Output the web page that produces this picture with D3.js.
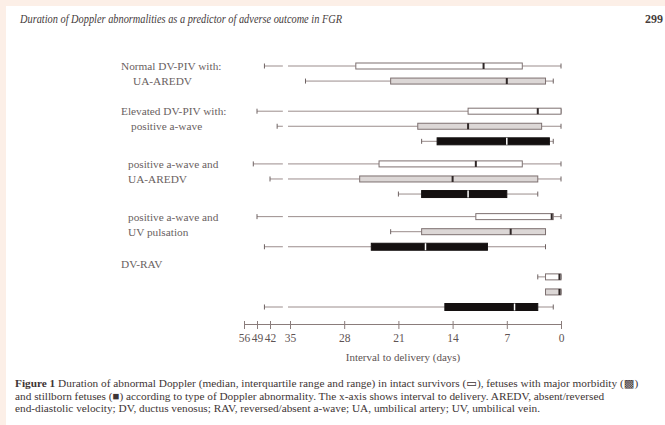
<!DOCTYPE html>
<html>
<head>
<meta charset="utf-8">
<script src="https://cdn.jsdelivr.net/npm/d3@7"></script>
<style>
  body { margin: 0; background: #fcefe7; }
  svg { display: block; }
</style>
</head>
<body>
<div id="chart"></div>
<script>
// days before delivery, one entry per box row (top to bottom)
var groupIndex = [0, 0, 1, 1, 1, 2, 2, 2, 3, 3, 3, 4, 4, 4];
var outcome = ["survivor", "morbidity", "survivor", "morbidity", "stillborn",
    "survivor", "morbidity", "stillborn", "survivor", "morbidity", "stillborn",
    "survivor", "morbidity", "stillborn"];
var longest = [45, 33, 49, 39.5, 18, 51, 42, 21, 49, 22, 45, 3, 2, 45];
var upperQ = [26.5, 22, 12, 18.5, 16, 23.5, 26, 18, 11, 18, 24.5, 2, 2, 15];
var median = [10, 7, 3, 12, 7, 11, 14, 12, 1.2, 6.5, 17.5, 0.2, 0.2, 6];
var lowerQ = [5, 2, 0, 2.5, 1.5, 5, 3, 7, 1, 2, 9.5, 0, 0, 3];
var shortest = [0, 1, 0, 0, 1, 0, 0, 3, 0, 2, 2, 0, 0, 1];

var groupLabels = [
    ["Normal DV-PIV with:", "UA-AREDV"],
    ["Elevated DV-PIV with:", "positive a-wave"],
    ["positive a-wave and", "UA-AREDV"],
    ["positive a-wave and", "UV pulsation"],
    ["DV-RAV"]
];
var labelOnOwnLine = [false, false, false, false, true];

var tickDays = [56, 49, 42, 35, 28, 21, 14, 7, 0];
var tickLabels = ["56", "49", "42", "35", "28", "21", "14", "7", "0"];

var headerText = "Duration of Doppler abnormalities as a predictor of adverse outcome in FGR";
var pageNumber = "299";
var xTitle = "Interval to delivery (days)";
var caption = [
    [["Figure 1", true], [" Duration of abnormal Doppler (median, interquartile range and range) in intact survivors (\u25AD), fetuses with major morbidity (\u25A9)", false]],
    [["and stillborn fetuses (\u25A0) according to type of Doppler abnormality. The x-axis shows interval to delivery. AREDV, absent/reversed", false]],
    [["end-diastolic velocity; DV, ductus venosus; RAV, reversed/absent a-wave; UA, umbilical artery; UV, umbilical vein.", false]]
];

var width = 665, height = 425;
var serif = "'Liberation Serif', 'DejaVu Serif', serif";

var svg = d3.select("#chart")
    .append("svg")
    .attr("width", width)
    .attr("height", height);

// scanned page: peach margin, white paper
svg.append("rect").attr("width", width).attr("height", height).attr("fill", "#fcefe7");
svg.append("rect").attr("x", 6).attr("y", 6)
    .attr("width", width - 6).attr("height", height - 6).attr("fill", "#ffffff");

// broken x axis: 56-35 squeezed, 35-0 linear
var x = d3.scaleLinear()
    .domain([56, 49, 42, 35, 0])
    .range([244, 257, 270, 290, 561]);
var breakDays = [37.5, 35.7];

// rows are laid out on half-row slots; group gaps differ a bit
var groupGap = [0, 4, 3, 3, 4];
var slot = [];
var s = 0;
for (var i = 0; i < groupIndex.length; i++) {
    if (i > 0) s += (groupIndex[i] !== groupIndex[i - 1]) ? groupGap[groupIndex[i]] : 2;
    slot.push(s);
}
var y = d3.scaleLinear().domain([0, s]).range([66, 307]);

var rows = groupIndex.map(function (g, i) {
    return {group: g, outcome: outcome[i], longest: longest[i], upperQ: upperQ[i],
        median: median[i], lowerQ: lowerQ[i], shortest: shortest[i], y: y(slot[i])};
});

var lineColor = "#9b8d8c";
var boxH = {survivor: 6, morbidity: 6, stillborn: 7};
var boxFill = {survivor: "#ffffff", morbidity: "#dcd7d6", stillborn: "#141010"};

var plot = svg.append("g");

rows.forEach(function (d) {
    var g = plot.append("g");
    var h = boxH[d.outcome];

    // left whisker, broken where the axis is compressed
    var segs = [];
    if (d.longest > breakDays[0]) {
        segs.push([d.longest, breakDays[0]]);
        segs.push([breakDays[1], d.upperQ]);
    } else {
        segs.push([d.longest, d.upperQ]);
    }
    segs.push([d.lowerQ, d.shortest]);
    segs.forEach(function (p) {
        g.append("line")
            .attr("x1", x(p[0])).attr("x2", x(p[1]))
            .attr("y1", d.y).attr("y2", d.y)
            .attr("stroke", lineColor).attr("stroke-width", 1);
    });

    // whisker end caps
    [d.longest, d.shortest].forEach(function (v) {
        g.append("line")
            .attr("x1", x(v)).attr("x2", x(v))
            .attr("y1", d.y - 2.5).attr("y2", d.y + 2.5)
            .attr("stroke", "#6e6262").attr("stroke-width", 1);
    });

    // interquartile box
    g.append("rect")
        .attr("x", x(d.upperQ))
        .attr("y", d.y - h / 2)
        .attr("width", x(d.lowerQ) - x(d.upperQ))
        .attr("height", h)
        .attr("fill", boxFill[d.outcome])
        .attr("stroke", d.outcome === "stillborn" ? "#141010" : "#7d7070")
        .attr("stroke-width", 1);

    // median
    g.append("line")
        .attr("x1", x(d.median)).attr("x2", x(d.median))
        .attr("y1", d.y - h / 2).attr("y2", d.y + h / 2)
        .attr("stroke", d.outcome === "stillborn" ? "#ffffff" : "#2e2626")
        .attr("stroke-width", d.outcome === "stillborn" ? 1.5 : 2);
});

// group labels on the left
var labelIndent = [[0, 12], [0, 10], [7, 7], [7, 7], [0]];
groupLabels.forEach(function (lines, g) {
    var first = rows.filter(function (d) { return d.group === g; });
    var y0 = labelOnOwnLine[g] ? first[0].y - 13 : first[0].y;
    var step = labelOnOwnLine[g] ? 14.5 : (first[1].y - first[0].y);
    lines.forEach(function (t, k) {
        svg.append("text")
            .attr("x", 121 + labelIndent[g][k])
            .attr("y", y0 + k * step)
            .attr("dy", "0.35em")
            .style("font-family", serif)
            .style("font-size", "11.3px")
            .style("fill", "#6a5f5f")
            .text(t);
    });
});

// x axis
var axis = svg.append("g")
    .attr("transform", "translate(0,324)")
    .call(d3.axisBottom(x)
        .tickValues(tickDays)
        .tickFormat(function (d, i) { return tickLabels[i]; })
        .tickSizeOuter(0)
        .tickSize(5)
        .tickPadding(5));
axis.select(".domain").attr("stroke", "#8a7c7b");
axis.selectAll(".tick line").attr("stroke", "#8a7c7b").attr("y1", -3);
axis.selectAll(".tick text")
    .style("font-family", serif)
    .style("font-size", "11.5px")
    .style("fill", "#5e5454");

// text label for the x axis
svg.append("text")
    .attr("x", 403)
    .attr("y", 361)
    .style("text-anchor", "middle")
    .style("font-family", serif)
    .style("font-size", "11px")
    .style("fill", "#5e5454")
    .text(xTitle);

// running header
svg.append("text")
    .attr("x", 20).attr("y", 23)
    .attr("textLength", 322)
    .attr("lengthAdjust", "spacingAndGlyphs")
    .style("font-family", serif)
    .style("font-style", "italic")
    .style("font-size", "12px")
    .style("fill", "#463c3c")
    .text(headerText);
svg.append("text")
    .attr("x", 645).attr("y", 23)
    .style("font-family", serif)
    .style("font-weight", "bold")
    .style("font-size", "12px")
    .style("fill", "#463c3c")
    .text(pageNumber);

// caption
caption.forEach(function (parts, k) {
    var t = svg.append("text")
        .attr("x", 15).attr("y", 387 + k * 12.5)
        .style("font-family", serif)
        .style("font-size", "11.3px")
        .style("fill", "#3e3535");
    parts.forEach(function (p) {
        t.append("tspan")
            .style("font-weight", p[1] ? "bold" : "normal")
            .text(p[0]);
    });
});
</script>
</body>
</html>
